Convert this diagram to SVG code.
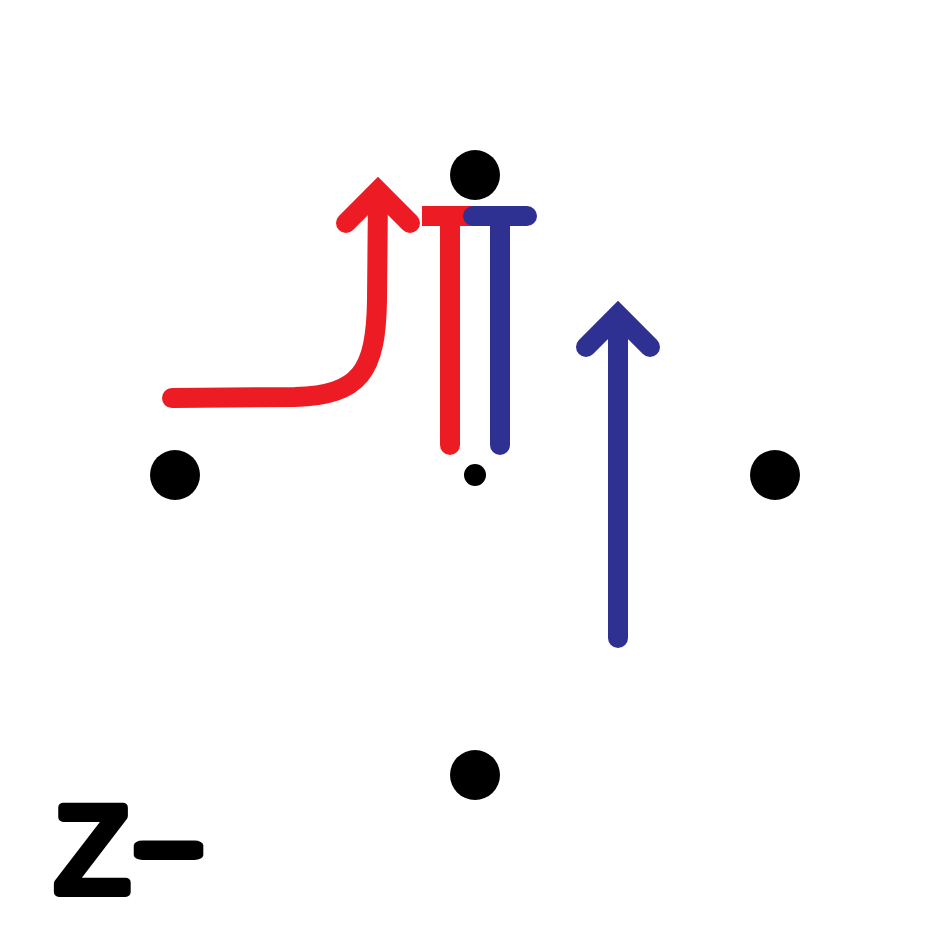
<svg xmlns="http://www.w3.org/2000/svg" width="950" height="950" viewBox="0 0 950 950">
<style>
.dot{fill:#000}
.red{stroke:#ed1c24;fill:none;stroke-width:20;stroke-linecap:round;stroke-linejoin:round}
.blue{stroke:#2e3192;fill:none;stroke-width:20;stroke-linecap:round;stroke-linejoin:round}
.head{stroke-linejoin:miter;stroke-miterlimit:4}
.lbl{font-family:"Liberation Sans",Arial,sans-serif;font-weight:normal;fill:#000;stroke:#000;stroke-width:10;stroke-linejoin:round;stroke-linecap:round}
</style>
<rect width="950" height="950" fill="#fff"/>
<g id="nodes">
<g id="n-top"><circle class="dot" cx="475" cy="175" r="25"/></g>
<g id="n-left"><circle class="dot" cx="175" cy="475" r="25"/></g>
<g id="n-right"><circle class="dot" cx="775" cy="475" r="25"/></g>
<g id="n-bottom"><circle class="dot" cx="475" cy="775" r="25"/></g>
<g id="n-center"><circle class="dot" cx="475" cy="475" r="11"/></g>
</g>
<g id="connectors">
<path class="red" d="M172,398 L295,397 C360,395 376,372 377,300 L378,195"/>
<polyline class="red head" points="346,223 378,191 410,223"/>
<path class="red" d="M450,445 V216 M422,216 H475" style="stroke-linecap:butt"/>
<path class="red" d="M450,445 V430"/>
<path class="blue" d="M500,445 V216 M473,216 H527"/>
<path class="blue" d="M618,638 V320"/>
<polyline class="blue head" points="586,347 618,315 650,347"/>
</g>
<g id="label">
<text class="lbl" x="55" y="892" font-size="122">Z</text>
<text class="lbl" x="0" y="0" font-size="122" transform="translate(133,883) scale(1.75,1)">-</text>
</g>
</svg>
